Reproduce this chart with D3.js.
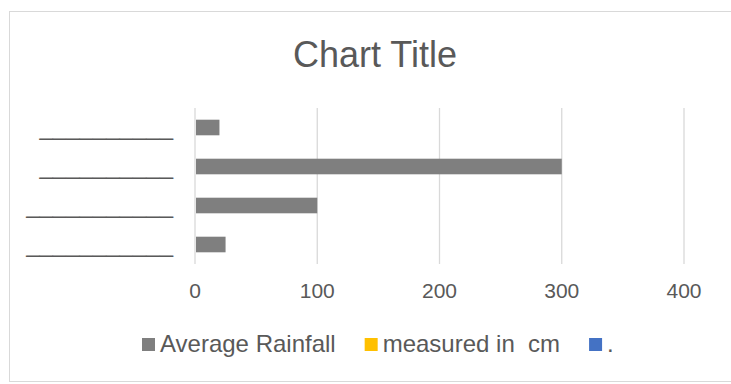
<!DOCTYPE html>
<html>
<head>
<meta charset="utf-8">
<script src="https://cdn.jsdelivr.net/npm/d3@7"></script>
<style>
  body { margin: 0; background: #fff; }
  text { font-family: "Liberation Sans", Arial, sans-serif; fill: #595959; }
</style>
</head>
<body>
<div id="chart"></div>
<script>
const width = 731;
const height = 384;

// rows listed top to bottom as they appear
const categoryLabels = ['__________', '__________', '___________', '___________'];
const rainfall = [20, 300, 100, 25];
const xTicks = [0, 100, 200, 300, 400];
const legendNames = ['Average Rainfall', 'measured in  cm', '.'];
const legendColors = ['#7f7f7f', '#ffc000', '#4472c4'];

const svg = d3.select('#chart')
    .append('svg')
    .attr('width', width)
    .attr('height', height);

// chart area border
svg.append('rect')
    .attr('x', 9.5)
    .attr('y', 11.5)
    .attr('width', 740)
    .attr('height', 370)
    .attr('fill', '#fff')
    .attr('stroke', '#d9d9d9')
    .attr('stroke-width', 1);

svg.append('text')
    .attr('x', 375)
    .attr('y', 67)
    .attr('text-anchor', 'middle')
    .style('font-size', '36px')
    .text('Chart Title');

const x = d3.scaleLinear()
    .domain([0, 400])
    .range([195, 684]);

const y = d3.scaleBand()
    .domain(d3.range(rainfall.length))
    .range([108, 264])
    .paddingInner(0.6)
    .paddingOuter(0.3);

// gridlines
svg.append('g')
    .selectAll('line')
    .data(xTicks)
    .enter()
    .append('line')
    .attr('x1', d => x(d))
    .attr('x2', d => x(d))
    .attr('y1', 108)
    .attr('y2', 264)
    .attr('stroke', '#d9d9d9')
    .attr('stroke-width', 1.3);

svg.append('g')
    .selectAll('rect')
    .data(rainfall)
    .enter()
    .append('rect')
    .attr('x', x(0) + 1)
    .attr('y', (d, i) => y(i))
    .attr('width', d => x(d) - x(0) - 1)
    .attr('height', y.bandwidth())
    .attr('fill', '#7f7f7f');

// category labels (underscores)
svg.append('g')
    .selectAll('text')
    .data(categoryLabels)
    .enter()
    .append('text')
    .attr('x', 173)
    .attr('y', (d, i) => y(i) + y.bandwidth() / 2 + 7)
    .attr('text-anchor', 'end')
    .style('font-size', '24px')
    .text(d => d);

// value axis labels
svg.append('g')
    .selectAll('text')
    .data(xTicks)
    .enter()
    .append('text')
    .attr('x', d => x(d))
    .attr('y', 298)
    .attr('text-anchor', 'middle')
    .style('font-size', '21px')
    .text(d => d);

// legend
const legend = svg.append('g').attr('transform', 'translate(142,0)');
let lx = 0;
legendNames.forEach((name, i) => {
    legend.append('rect')
        .attr('x', lx)
        .attr('y', 338)
        .attr('width', 13)
        .attr('height', 13)
        .attr('fill', legendColors[i]);
    const t = legend.append('text')
        .attr('x', lx + 18)
        .attr('y', 352)
        .style('font-size', '24px')
        .style('white-space', 'pre')
        .text(name);
    lx += 18 + t.node().getComputedTextLength() + 29;
});
</script>
</body>
</html>
